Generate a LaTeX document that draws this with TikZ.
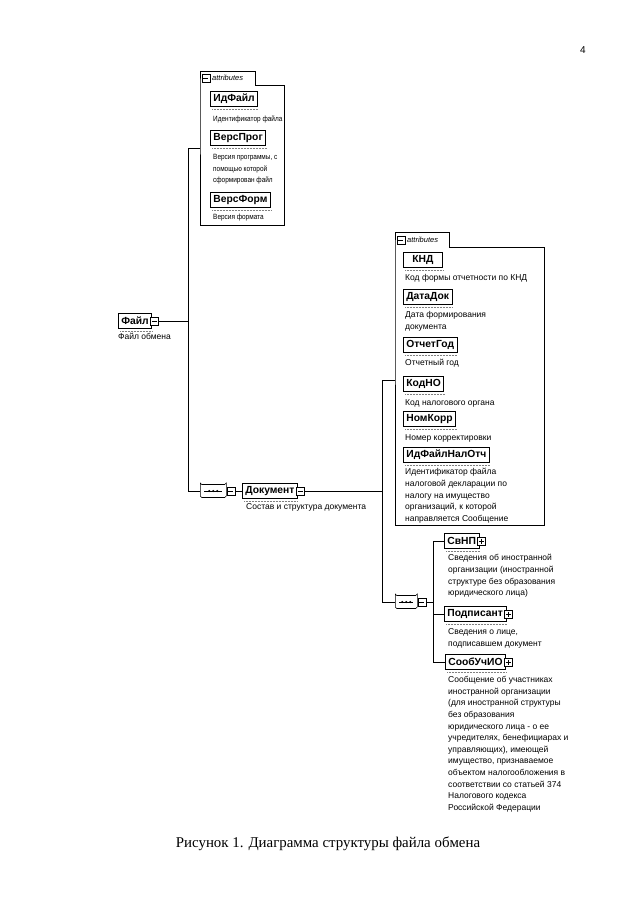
\documentclass[tikz,border=0pt]{standalone}
\usepackage{fontspec}
\setmainfont{Liberation Serif}
\setsansfont{Liberation Sans}
\newfontfamily\narrowsans[FakeStretch=0.85]{Liberation Sans}
\usetikzlibrary{positioning,shapes.misc}
\begin{document}
\begin{tikzpicture}[x=1pt,y=-1pt,
  every node/.style={inner sep=0pt},
  elem/.style={draw, line width=0.7pt, anchor=west, inner xsep=3pt, minimum height=15pt,
    font=\sffamily\bfseries\fontsize{10.3}{11}\selectfont},
  descr/.style={anchor=north west, align=left, font=\sffamily\fontsize{8.5}{11.6}\selectfont},
  narrowdescr/.style={descr, font=\narrowsans\fontsize{7.6}{11.6}\selectfont},
  attrarea/.style={anchor=north west},
  tabarea/.style={anchor=south west, minimum height=13pt},
  tablbl/.style={font=\sffamily\itshape\fontsize{7.5}{8}\selectfont},
  btn/.style={draw, fill=white, line width=0.5pt, minimum size=8pt, anchor=west},
  minusbtn/.style={btn, path picture={\draw[line width=0.5pt]
    ([xshift=1.5pt]path picture bounding box.west) -- ([xshift=-1.5pt]path picture bounding box.east);}},
  plusbtn/.style={btn, path picture={\draw[line width=0.5pt]
    ([xshift=1.5pt]path picture bounding box.west) -- ([xshift=-1.5pt]path picture bounding box.east)
    ([yshift=-1.5pt]path picture bounding box.north) -- ([yshift=1.5pt]path picture bounding box.south);}},
  seqicon/.style={chamfered rectangle, chamfered rectangle xsep=4pt, draw, line width=0.6pt,
    rounded corners=1.5pt, minimum width=26pt, minimum height=13pt, anchor=west,
    path picture={\draw[line width=0.6pt] ([xshift=4pt]path picture bounding box.west) -- ([xshift=-4pt]path picture bounding box.east);
      \foreach \dx in {-4,0,4} \fill ([xshift=\dx pt]path picture bounding box.center) circle (1.1pt);}},
  wire/.style={line width=0.8pt}
]
\useasboundingbox (0,0) rectangle (640,905);

\node (pagenum) [font=\sffamily\fontsize{10}{12}\selectfont] at (583,50) {4};

\node (attrs1) [attrarea, minimum width=84pt, minimum height=140pt] at (200,85) {};
\node (tab1) [tabarea, minimum width=55pt] at (attrs1.north west) {};
\draw [line width=0.6pt] (attrs1.north west) -- (tab1.north west) -- (tab1.north east) -- (tab1.south east)
  -- (attrs1.north east) -- (attrs1.south east) -- (attrs1.south west) -- cycle;
\node (tab1btn) [minusbtn] at ([xshift=1.5pt]tab1.west) {};
\node (tab1lbl) [tablbl, right=2pt of tab1btn] {attributes};

\node (idfile) [elem] at (210,99) {ИдФайл};
\node (idfiled) [narrowdescr] at (213,115.5) {Идентификатор файла};
\node (versprog) [elem] at (210,138) {ВерсПрог};
\node (versprogd) [narrowdescr] at (213,154) {Версия программы, с\\помощью которой\\сформирован файл};
\node (versform) [elem] at (210,200) {ВерсФорм};
\node (versformd) [narrowdescr] at (213,214) {Версия формата};

\node (attrs2) [attrarea, minimum width=149pt, minimum height=278pt] at (395,247) {};
\node (tab2) [tabarea, minimum width=54pt, minimum height=14pt] at (attrs2.north west) {};
\draw [line width=0.6pt] (attrs2.north west) -- (tab2.north west) -- (tab2.north east) -- (tab2.south east)
  -- (attrs2.north east) -- (attrs2.south east) -- (attrs2.south west) -- cycle;
\node (tab2btn) [minusbtn] at ([xshift=1.5pt]tab2.west) {};
\node (tab2lbl) [tablbl, right=2pt of tab2btn] {attributes};

\node (knd) [elem, minimum width=39pt] at (403,260) {КНД};
\node (kndd) [descr] at (405,274.3) {Код формы отчетности по КНД};
\node (datadok) [elem] at (403,297) {ДатаДок};
\node (datadokd) [descr] at (405,311.3) {Дата формирования\\документа};
\node (otchgod) [elem] at (403,345) {ОтчетГод};
\node (otchgodd) [descr] at (405,359.3) {Отчетный год};
\node (kodno) [elem] at (403,384) {КодНО};
\node (kodnod) [descr] at (405,399.3) {Код налогового органа};
\node (nomkorr) [elem] at (403,419) {НомКорр};
\node (nomkorrd) [descr] at (405,434.8) {Номер корректировки};
\node (idfnal) [elem] at (403,455) {ИдФайлНалОтч};
\node (idfnald) [descr] at (405,468.3) {Идентификатор файла\\налоговой декларации по\\налогу на имущество\\организаций, к которой\\направляется Сообщение};

\node (file) [elem] at (118,321) {Файл\hspace{4pt}};
\node (filebtn) [minusbtn] at ([xshift=-2pt]file.east) {};
\node (filed) [descr] at (118,333) {Файл обмена};

\node (seq1) [seqicon] at (200,491) {};
\node (seq1btn) [minusbtn] at (seq1.east) {};
\node (doc) [elem] at (242,491) {Документ\hspace{4pt}};
\node (docbtn) [minusbtn] at ([xshift=-2pt]doc.east) {};
\node (docd) [descr] at (246,503) {Состав и структура документа};

\node (seq2) [seqicon, minimum width=22pt] at (395,602) {};
\node (seq2btn) [minusbtn] at (seq2.east) {};

\node (svnp) [elem] at (444,541) {СвНП\hspace{4pt}};
\node (svnpbtn) [plusbtn] at ([xshift=-2pt]svnp.east) {};
\node (svnpd) [descr] at (448,554.3) {Сведения об иностранной\\организации (иностранной\\структуре без образования\\юридического лица)};
\node (podp) [elem] at (444,614) {Подписант\hspace{4pt}};
\node (podpbtn) [plusbtn] at ([xshift=-2pt]podp.east) {};
\node (podpd) [descr] at (448,628.3) {Сведения о лице,\\подписавшем документ};
\node (soob) [elem] at (445,662) {СообУчИО\hspace{4pt}};
\node (soobbtn) [plusbtn] at ([xshift=-2pt]soob.east) {};
\node (soobd) [descr] at (448,676.3) {Сообщение об участниках\\иностранной организации\\(для иностранной структуры\\без образования\\юридического лица - о ее\\учредителях, бенефициарах и\\управляющих), имеющей\\имущество, признаваемое\\объектом налогообложения в\\соответствии со статьей 374\\Налогового кодекса\\Российской Федерации};

\foreach \n in {idfile,versprog,versform,knd,datadok,otchgod,kodno,nomkorr,idfnal,file,doc,svnp,podp,soob}
  \draw [gray, densely dotted, line width=0.5pt] ([xshift=2pt,yshift=-2pt]\n.south west) -- ([yshift=-2pt]\n.south east);

\coordinate (bus1t) at (188,148);
\coordinate (bus1b) at (188,491);
\draw [wire] (attrs1.west |- bus1t) -- (bus1t) -- (bus1b) -- (seq1.west);
\draw [wire] (filebtn.east) -- (filebtn.east -| bus1t);
\draw [wire] (seq1btn.east) -- (doc.west);

\coordinate (bus2t) at (382,380);
\coordinate (bus2b) at (382,602);
\draw [wire] (attrs2.west |- bus2t) -- (bus2t) -- (bus2b) -- (seq2.west);
\draw [wire] (docbtn.east) -- (docbtn.east -| bus2t);

\coordinate (bus3t) at (433,541);
\draw [wire] (seq2btn.east) -- (seq2btn.east -| bus3t);
\draw [wire] (svnp.west) -- (svnp.west -| bus3t) -- (soob.west -| bus3t) -- (soob.west);
\draw [wire] (podp.west) -- (podp.west -| bus3t);

\node (caption) [font=\fontsize{14.9}{17}\selectfont] at (328,844) {Рисунок 1. Диаграмма структуры файла обмена};
\end{tikzpicture}
\end{document}
